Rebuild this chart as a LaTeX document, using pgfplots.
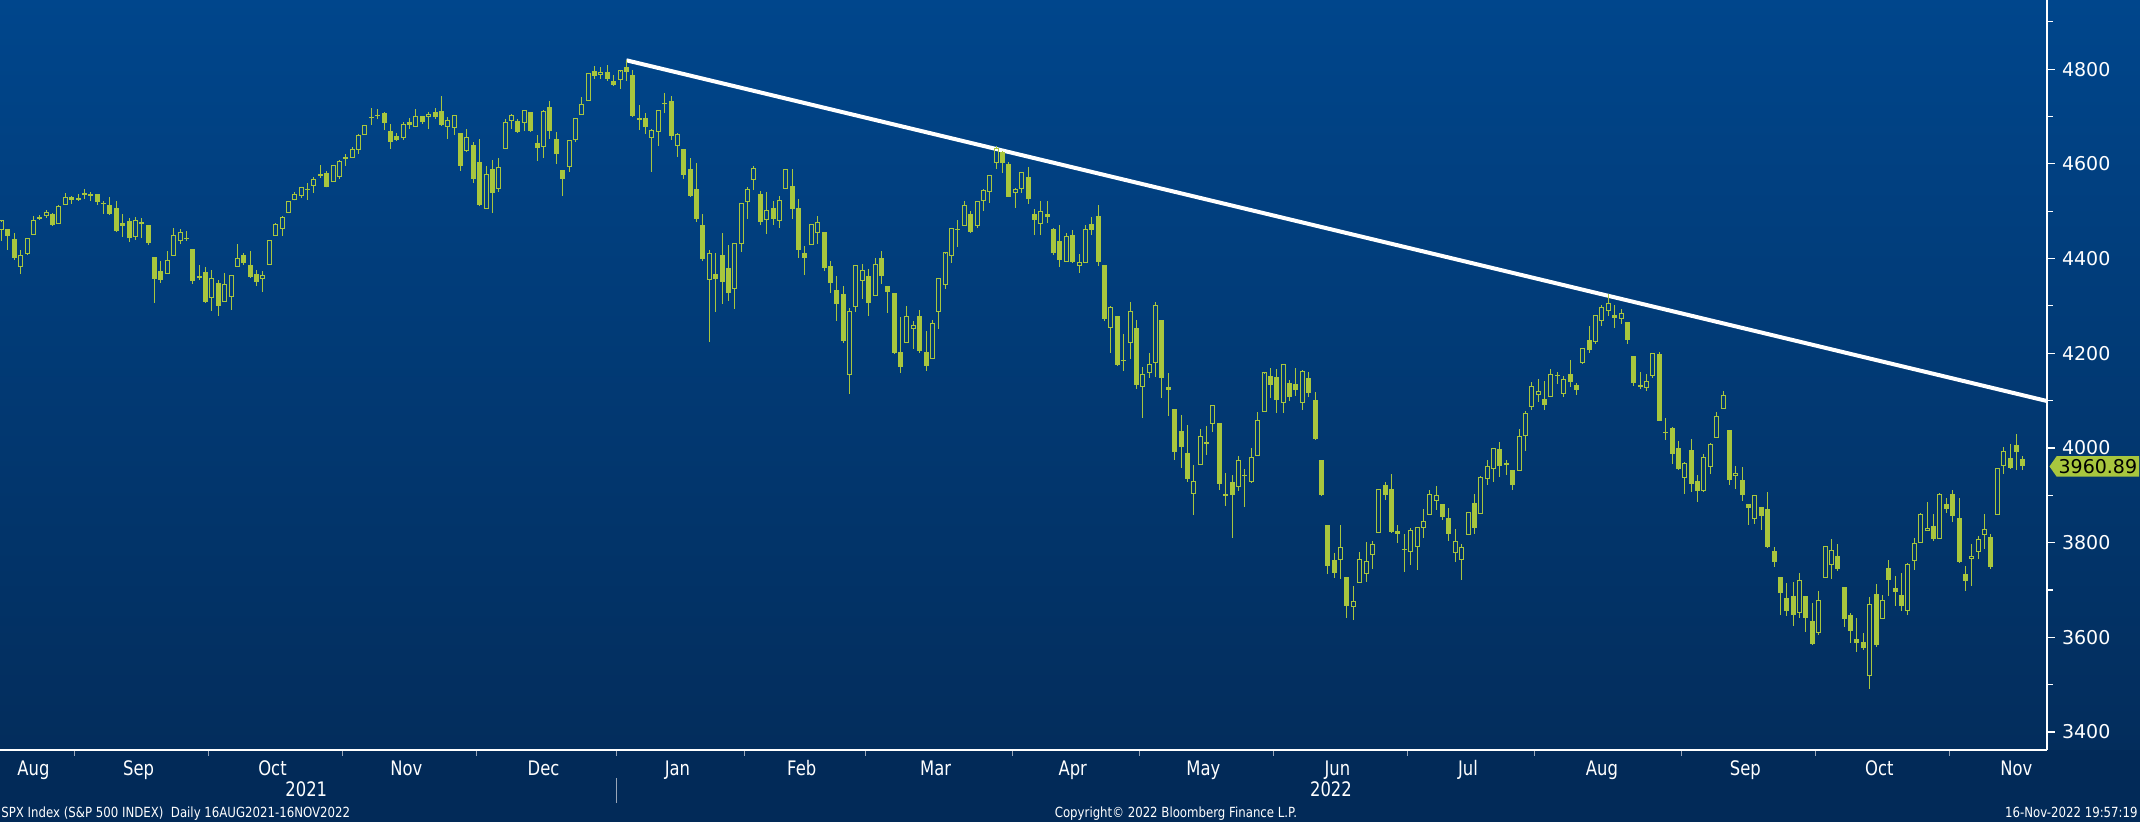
\documentclass[border=0pt]{standalone}
\usepackage{pgfplots}
\pgfplotsset{compat=1.18}
\usepackage{pgfplotstable}
\usepackage{fontspec}
\usetikzlibrary{shapes.symbols}

\newfontfamily\tickfont{DejaVu Sans}
\newfontfamily\narrowfont[FakeStretch=0.82]{DejaVu Sans}
\newfontfamily\footfont[FakeStretch=0.84]{DejaVu Sans}

\definecolor{bgtop}{HTML}{00468C}
\definecolor{bgbot}{HTML}{032D5C}
\definecolor{bgband}{HTML}{022A58}
\definecolor{candle}{HTML}{A8C63E}
\definecolor{tickgray}{HTML}{9AA6B8}

% candle geometry
\newdimen\cyo \newdimen\cyc \newdimen\cyh \newdimen\cyl
\newdimen\bw  \bw=1.25pt
\newdimen\bwi \bwi=1.0pt
\pgfdeclareplotmark{nomark}{}

% marker origin sits at (day, close); open/high/low are taken relative to it
\newcommand\drawcandle{%
  \pgfextracty{\cyc}{\pgfplotspointaxisxy{0}{\vc}}%
  \pgfextracty{\cyo}{\pgfplotspointaxisxy{0}{\vo}}%
  \pgfextracty{\cyh}{\pgfplotspointaxisxy{0}{\vh}}%
  \pgfextracty{\cyl}{\pgfplotspointaxisxy{0}{\vl}}%
  \advance\cyo by -\cyc
  \advance\cyh by -\cyc
  \advance\cyl by -\cyc
  \pgfsetlinewidth{0.5pt}%
  \pgfsetstrokecolor{candle}\pgfsetfillcolor{candle}%
  \ifdim\cyo>0pt
    \pgfpathrectangle{\pgfqpoint{-\bw}{0pt}}{\pgfqpoint{2\bw}{\cyo}}%
    \pgfusepath{fill}%
    \pgfpathmoveto{\pgfqpoint{0pt}{\cyo}}\pgfpathlineto{\pgfqpoint{0pt}{\cyh}}%
    \pgfpathmoveto{\pgfqpoint{0pt}{0pt}}\pgfpathlineto{\pgfqpoint{0pt}{\cyl}}%
    \pgfusepath{stroke}%
  \else
    \pgfpathrectangle{\pgfqpoint{-\bwi}{\cyo}}{\pgfqpoint{2\bwi}{-\cyo}}%
    \pgfpathmoveto{\pgfqpoint{0pt}{0pt}}\pgfpathlineto{\pgfqpoint{0pt}{\cyh}}%
    \pgfpathmoveto{\pgfqpoint{0pt}{\cyo}}\pgfpathlineto{\pgfqpoint{0pt}{\cyl}}%
    \pgfusepath{stroke}%
  \fi
}

% SPX daily, trading day index from 16 Aug 2021
\pgfplotstableread{
d o h l c
0 4461.65 4480.26 4437.66 4479.71
1 4462.12 4462.12 4417.83 4448.08
2 4440.94 4454.32 4397.59 4400.27
3 4382.44 4418.61 4367.73 4405.80
4 4410.56 4444.35 4406.80 4441.67
5 4450.29 4489.88 4450.29 4479.53
6 4484.40 4492.81 4482.28 4486.23
7 4490.45 4501.71 4485.66 4496.19
8 4493.75 4495.90 4468.99 4470.00
9 4474.10 4513.33 4474.10 4509.37
10 4513.76 4537.36 4513.76 4528.79
11 4529.75 4531.39 4515.80 4522.68
12 4528.80 4537.11 4522.02 4524.09
13 4534.48 4545.85 4524.66 4536.95
14 4532.42 4541.45 4521.94 4535.43
15 4535.38 4535.38 4513.00 4520.03
16 4518.09 4521.79 4493.95 4514.07
17 4513.02 4529.90 4492.07 4493.28
18 4506.92 4520.47 4457.66 4458.58
19 4474.81 4492.99 4445.70 4468.73
20 4479.33 4485.68 4435.46 4443.05
21 4447.49 4486.87 4438.37 4480.70
22 4477.09 4485.87 4443.80 4473.75
23 4469.74 4471.41 4427.76 4432.99
24 4402.95 4402.95 4305.91 4357.73
25 4374.45 4394.87 4347.96 4354.19
26 4367.43 4416.75 4367.43 4395.64
27 4406.75 4465.40 4406.75 4448.98
28 4438.04 4463.12 4430.27 4455.48
29 4442.12 4457.30 4436.19 4443.11
30 4419.54 4419.54 4346.33 4352.63
31 4362.41 4385.57 4355.08 4359.46
32 4370.67 4382.55 4306.24 4307.54
33 4317.16 4375.19 4288.52 4357.04
34 4348.84 4355.51 4278.94 4300.46
35 4309.87 4369.23 4309.87 4345.72
36 4319.57 4365.57 4290.49 4363.55
37 4383.73 4429.97 4383.73 4399.76
38 4406.51 4412.02 4386.19 4391.34
39 4385.44 4415.88 4360.59 4361.19
40 4368.31 4374.89 4342.09 4350.65
41 4358.01 4372.87 4329.92 4363.80
42 4386.75 4439.73 4386.75 4438.26
43 4447.69 4475.82 4447.69 4471.37
44 4463.72 4488.75 4447.47 4486.46
45 4497.34 4520.40 4496.41 4519.63
46 4524.42 4540.87 4524.40 4536.19
47 4532.24 4551.44 4526.89 4549.78
48 4546.12 4559.67 4524.00 4544.90
49 4553.69 4572.62 4537.36 4566.48
50 4578.69 4598.53 4569.17 4574.79
51 4580.22 4584.57 4551.66 4551.68
52 4562.84 4597.55 4562.84 4596.42
53 4572.87 4608.08 4567.59 4605.38
54 4610.62 4620.34 4595.06 4613.67
55 4613.34 4635.15 4613.34 4630.65
56 4630.65 4663.46 4621.19 4660.57
57 4662.93 4683.00 4662.59 4680.06
58 4699.26 4718.50 4681.32 4697.53
59 4701.48 4714.92 4694.39 4701.70
60 4707.25 4708.53 4670.87 4685.25
61 4670.26 4684.85 4630.86 4646.71
62 4659.39 4664.55 4648.31 4649.27
63 4655.24 4688.47 4650.77 4682.85
64 4689.30 4697.42 4672.86 4682.80
65 4679.42 4714.95 4679.42 4700.90
66 4701.50 4701.50 4684.41 4688.67
67 4700.72 4708.80 4672.78 4704.54
68 4708.44 4717.75 4694.22 4697.96
69 4712.00 4743.83 4682.17 4682.94
70 4678.48 4699.39 4652.66 4690.70
71 4675.78 4702.87 4659.89 4701.46
72 4664.63 4664.63 4585.43 4594.62
73 4628.75 4672.95 4625.26 4655.27
74 4640.25 4646.02 4560.00 4567.00
75 4602.82 4652.94 4510.27 4513.04
76 4504.73 4595.46 4504.73 4577.10
77 4589.49 4608.03 4495.12 4538.43
78 4548.37 4612.60 4540.51 4591.67
79 4631.97 4694.04 4631.97 4686.75
80 4690.86 4705.06 4674.52 4701.21
81 4691.00 4695.26 4665.98 4667.45
82 4687.64 4713.57 4670.24 4712.02
83 4710.30 4710.30 4667.60 4668.97
84 4642.99 4660.47 4606.52 4634.09
85 4636.46 4712.60 4611.22 4709.85
86 4719.13 4731.99 4651.89 4668.67
87 4652.50 4666.70 4600.22 4620.64
88 4587.90 4587.90 4531.10 4568.02
89 4594.96 4651.14 4583.16 4649.23
90 4650.36 4697.67 4645.53 4696.56
91 4703.96 4740.74 4703.96 4725.79
92 4733.99 4791.49 4733.99 4791.19
93 4795.49 4807.02 4780.04 4786.35
94 4788.64 4804.06 4778.08 4793.06
95 4794.23 4808.93 4775.33 4778.73
96 4775.21 4786.83 4765.75 4766.18
97 4778.14 4796.64 4758.17 4796.56
98 4804.51 4818.62 4774.27 4793.54
99 4787.99 4797.70 4699.44 4700.58
100 4693.39 4725.01 4671.26 4696.05
101 4697.66 4707.95 4662.74 4677.03
102 4655.34 4673.02 4582.24 4670.29
103 4669.14 4714.13 4638.27 4713.07
104 4728.59 4748.83 4706.71 4726.35
105 4733.56 4744.13 4650.29 4659.03
106 4637.99 4665.13 4614.75 4662.85
107 4632.24 4632.24 4568.70 4577.11
108 4588.03 4611.55 4530.20 4532.76
109 4547.35 4602.11 4477.95 4482.73
110 4471.38 4494.52 4395.34 4397.94
111 4356.32 4417.35 4222.62 4410.13
112 4366.64 4411.01 4287.11 4356.45
113 4408.43 4453.23 4304.80 4349.93
114 4380.58 4428.74 4309.50 4326.51
115 4336.19 4432.72 4292.46 4431.85
116 4431.79 4516.89 4414.02 4515.55
117 4519.57 4550.49 4483.53 4546.54
118 4566.39 4595.31 4544.32 4589.38
119 4535.41 4542.88 4470.39 4477.44
120 4482.79 4539.66 4451.50 4500.53
121 4505.75 4521.86 4471.47 4483.87
122 4480.02 4531.32 4465.40 4521.54
123 4547.00 4590.03 4547.00 4587.18
124 4553.24 4588.92 4484.31 4504.08
125 4506.27 4526.33 4401.41 4418.64
126 4412.61 4426.22 4364.84 4401.67
127 4429.28 4472.77 4429.28 4471.07
128 4455.75 4489.55 4429.68 4475.01
129 4456.06 4456.06 4373.81 4380.26
130 4384.57 4394.60 4327.22 4348.87
131 4332.74 4362.12 4267.11 4304.76
132 4324.93 4341.51 4221.51 4225.50
133 4155.77 4294.73 4114.65 4288.70
134 4298.38 4385.34 4286.83 4384.65
135 4354.17 4388.84 4315.12 4373.94
136 4363.14 4378.45 4279.54 4306.26
137 4322.56 4401.48 4322.56 4386.54
138 4401.31 4416.78 4345.56 4363.49
139 4342.12 4342.12 4284.98 4328.87
140 4327.01 4327.01 4199.85 4201.09
141 4202.66 4276.94 4157.87 4170.70
142 4223.10 4299.40 4223.10 4277.88
143 4252.55 4268.28 4209.80 4259.52
144 4279.50 4291.01 4200.49 4204.31
145 4202.75 4247.57 4161.72 4173.11
146 4188.82 4271.05 4187.90 4262.45
147 4288.14 4358.90 4251.99 4357.86
148 4345.11 4412.67 4335.65 4411.67
149 4407.34 4465.40 4390.57 4463.12
150 4462.40 4481.75 4424.30 4461.18
151 4469.10 4522.00 4469.10 4511.61
152 4493.10 4501.07 4455.81 4456.24
153 4469.98 4520.58 4465.17 4520.16
154 4522.91 4546.03 4501.07 4543.06
155 4541.09 4575.65 4517.69 4575.52
156 4602.86 4637.30 4589.66 4631.60
157 4624.20 4627.77 4581.32 4602.45
158 4599.02 4603.07 4530.41 4530.41
159 4540.32 4548.70 4507.57 4545.86
160 4547.97 4583.50 4539.21 4582.64
161 4572.45 4593.45 4514.17 4525.12
162 4494.17 4503.94 4450.04 4481.15
163 4474.65 4521.16 4450.30 4500.21
164 4494.15 4520.41 4474.60 4488.28
165 4462.64 4464.35 4408.38 4412.53
166 4437.59 4471.00 4381.34 4397.45
167 4394.30 4453.92 4392.70 4446.59
168 4449.12 4460.46 4390.77 4392.59
169 4385.63 4410.31 4370.30 4391.69
170 4390.63 4471.03 4390.63 4462.21
171 4472.26 4488.29 4448.76 4459.45
172 4489.17 4512.94 4384.47 4393.66
173 4385.83 4385.83 4267.62 4271.78
174 4255.34 4299.02 4200.82 4296.12
175 4278.14 4278.14 4175.04 4175.20
176 4186.52 4240.71 4162.90 4183.96
177 4222.58 4308.45 4188.63 4287.50
178 4253.75 4269.68 4124.28 4131.93
179 4130.61 4169.81 4062.51 4155.38
180 4159.78 4200.10 4147.08 4175.48
181 4181.18 4307.66 4148.91 4300.17
182 4270.43 4270.43 4106.01 4146.87
183 4128.17 4157.69 4067.91 4123.34
184 4081.27 4081.27 3975.48 3991.24
185 4035.18 4068.82 3958.17 4001.05
186 3990.08 4049.09 3928.82 3935.18
187 3903.95 3964.80 3858.87 3930.08
188 3963.90 4038.88 3963.90 4023.89
189 4013.02 4046.46 3983.99 4008.01
190 4052.00 4090.72 4033.93 4088.85
191 4051.98 4051.98 3911.91 3923.68
192 3899.00 3945.96 3876.58 3900.79
193 3927.76 3943.42 3810.32 3901.36
194 3919.42 3981.88 3909.04 3973.75
195 3942.94 3955.68 3875.13 3941.48
196 3929.59 3999.33 3925.03 3978.73
197 3984.60 4075.14 3984.60 4057.84
198 4077.43 4158.49 4077.43 4158.24
199 4151.09 4168.34 4104.88 4132.15
200 4149.78 4166.54 4073.85 4101.23
201 4095.41 4177.51 4074.37 4176.82
202 4137.57 4142.67 4098.67 4108.54
203 4134.72 4168.78 4109.18 4121.43
204 4096.47 4164.86 4080.19 4160.68
205 4147.12 4160.14 4107.20 4115.77
206 4101.65 4119.10 4017.17 4017.82
207 3974.39 3974.39 3900.16 3900.86
208 3838.15 3838.15 3734.30 3749.63
209 3763.52 3778.18 3724.83 3735.48
210 3764.05 3837.56 3722.30 3789.99
211 3728.18 3728.18 3639.77 3666.77
212 3665.90 3707.71 3636.87 3674.84
213 3715.31 3779.65 3715.31 3764.79
214 3733.89 3801.79 3717.69 3759.89
215 3774.71 3802.58 3743.52 3795.73
216 3821.75 3913.65 3821.75 3911.74
217 3920.76 3927.72 3889.66 3900.11
218 3913.00 3945.86 3820.14 3821.55
219 3825.09 3836.50 3799.02 3818.83
220 3785.99 3818.99 3738.67 3785.38
221 3781.00 3829.82 3752.10 3825.33
222 3792.61 3832.19 3742.06 3831.39
223 3831.98 3870.91 3809.37 3845.08
224 3858.85 3910.63 3858.85 3902.62
225 3888.26 3918.50 3869.34 3899.38
226 3880.94 3880.94 3847.22 3854.43
227 3851.95 3873.41 3802.36 3818.80
228 3779.67 3829.44 3759.07 3801.78
229 3763.99 3796.41 3721.56 3790.38
230 3818.00 3863.62 3817.18 3863.16
231 3883.79 3902.44 3818.63 3830.85
232 3860.73 3939.81 3860.73 3936.69
233 3935.32 3974.13 3922.03 3959.90
234 3955.47 3999.29 3927.64 3998.95
235 3998.43 4012.44 3938.85 3961.63
236 3965.72 3975.30 3943.46 3966.84
237 3953.22 3953.22 3910.74 3921.05
238 3951.43 4039.56 3951.43 4023.61
239 4026.13 4078.95 3992.97 4072.43
240 4087.33 4140.15 4079.22 4130.29
241 4112.38 4144.95 4096.02 4118.63
242 4104.21 4140.47 4079.81 4091.19
243 4107.96 4167.66 4107.96 4155.17
244 4154.85 4161.29 4135.42 4151.94
245 4115.87 4151.58 4107.31 4145.19
246 4155.93 4186.62 4128.97 4140.06
247 4133.11 4137.30 4112.09 4122.47
248 4181.02 4211.03 4177.26 4210.24
249 4227.40 4257.91 4201.41 4207.27
250 4225.02 4280.47 4219.78 4280.15
251 4269.37 4301.79 4256.90 4297.14
252 4290.46 4325.28 4277.77 4305.20
253 4280.40 4302.18 4253.08 4274.04
254 4273.13 4292.53 4261.98 4283.74
255 4266.31 4266.31 4218.70 4228.48
256 4195.08 4195.08 4129.86 4137.99
257 4133.09 4159.77 4124.03 4128.73
258 4126.55 4156.56 4119.97 4140.77
259 4153.26 4200.54 4147.59 4199.12
260 4198.74 4203.04 4057.66 4057.66
261 4034.58 4062.99 4017.42 4030.61
262 4041.25 4044.98 3965.21 3986.16
263 4000.67 4015.37 3954.53 3955.00
264 3936.73 3970.23 3903.65 3966.85
265 3994.66 4018.43 3906.21 3924.26
266 3930.89 3942.55 3886.75 3908.19
267 3909.43 3987.89 3906.03 3979.87
268 3959.94 4010.50 3944.81 4006.18
269 4022.94 4076.81 4022.94 4067.36
270 4083.67 4119.28 4083.67 4110.41
271 4037.12 4037.12 3921.62 3932.69
272 3940.73 3961.94 3912.47 3946.01
273 3932.41 3959.14 3888.28 3901.35
274 3880.95 3880.95 3837.08 3873.33
275 3849.91 3900.45 3838.50 3899.89
276 3875.23 3876.01 3827.54 3855.93
277 3871.40 3907.07 3789.49 3789.93
278 3782.36 3790.68 3749.02 3757.99
279 3727.14 3727.14 3647.47 3693.23
280 3682.72 3715.67 3644.76 3655.04
281 3686.44 3717.53 3623.76 3647.29
282 3651.94 3736.74 3640.61 3719.04
283 3687.01 3687.01 3610.40 3640.47
284 3633.48 3671.44 3584.13 3585.62
285 3609.78 3698.35 3604.93 3678.43
286 3726.46 3791.92 3726.46 3790.93
287 3753.25 3806.91 3722.66 3783.28
288 3771.97 3797.93 3739.22 3744.52
289 3706.74 3706.74 3620.73 3639.66
290 3647.51 3652.17 3588.10 3612.39
291 3595.86 3640.66 3568.45 3588.84
292 3590.83 3608.34 3573.86 3577.03
293 3520.37 3685.41 3491.58 3669.91
294 3690.41 3712.00 3579.68 3583.07
295 3638.65 3689.73 3638.65 3677.95
296 3746.26 3762.79 3686.53 3719.98
297 3703.11 3728.58 3666.51 3695.16
298 3689.05 3736.00 3656.44 3665.78
299 3657.10 3757.89 3647.42 3752.75
300 3762.01 3810.74 3741.65 3797.34
301 3799.44 3862.79 3799.44 3859.11
302 3825.97 3886.15 3824.07 3830.60
303 3834.69 3859.95 3803.79 3807.30
304 3808.26 3905.42 3808.26 3901.06
305 3881.86 3893.73 3863.18 3871.98
306 3901.79 3911.79 3843.80 3856.10
307 3852.90 3894.44 3758.68 3759.69
308 3733.25 3750.59 3698.15 3719.89
309 3766.98 3796.34 3708.84 3770.55
310 3780.71 3813.95 3764.70 3806.80
311 3817.02 3859.40 3786.28 3828.11
312 3810.94 3818.20 3744.22 3748.57
313 3859.89 3958.33 3859.89 3956.37
314 3963.72 4001.48 3944.82 3992.93
315 3977.97 4008.97 3956.40 3957.25
316 4006.41 4028.84 3953.17 3991.73
317 3976.82 3983.09 3954.34 3960.89
}\spx

\begin{document}
\begin{tikzpicture}
\useasboundingbox (0,0) rectangle (1070pt,411pt);
\shade[top color=bgtop, bottom color=bgbot] (0,36pt) rectangle (1070pt,411pt);
\fill[bgband] (0,0) rectangle (1070pt,36pt);

\begin{axis}[
    at={(0pt,36pt)}, anchor=south west,
    scale only axis, width=1023.5pt, height=375pt,
    xmin=-0.24, xmax=320.8, ymin=3362, ymax=4946,
    axis x line*=bottom, axis y line*=right,
    axis line style={white, line width=1pt},
    tick align=outside,
    major tick length=4pt, minor tick length=3pt,
    ytick={3400,3600,3800,4000,4200,4400,4600,4800},
    yticklabels={3400,3600,3800,4000,4200,4400,4600,4800},
    minor ytick={3500,3700,3900,4100,4300,4500,4700,4900},
    y tick style={white, line width=0.6pt},
    yticklabel style={font=\tickfont\fontsize{9.5}{11}\selectfont, text=white},
    xtick={5,21.5,42.5,63.5,85,106,125.5,146.5,168,188.5,209.5,230,251,273.5,294.5,316},
    xticklabels={Aug,Sep,Oct,Nov,Dec,Jan,Feb,Mar,Apr,May,Jun,Jul,Aug,Sep,Oct,Nov},
    major x tick style={draw=none},
    minor xtick={11.5,32.5,53.5,74.5,96.5,116.5,135.5,158.5,178.5,199.5,220.5,240.5,263.5,284.5,305.5},
    minor x tick style={tickgray, line width=0.5pt},
    xticklabel style={font=\narrowfont\fontsize{10}{12}\selectfont, text=white, anchor=base, yshift=-9pt},
]
\addplot[scatter, only marks, mark=nomark,
    visualization depends on={\thisrow{o}\as\vo},
    visualization depends on={\thisrow{h}\as\vh},
    visualization depends on={\thisrow{l}\as\vl},
    visualization depends on={\thisrow{c}\as\vc},
    scatter/@pre marker code/.code={\drawcandle},
    scatter/@post marker code/.code={},
] table[x=d, y=c] {\spx};

% resistance line from the January high
\addplot[white, line width=2pt] coordinates {(98,4818.62) (320.8,4099)};

\coordinate (tag) at (axis cs:320.8,3960.89);
\coordinate (y21) at (axis cs:47.8,3362);
\coordinate (y22) at (axis cs:208.5,3362);
\coordinate (ysep) at (axis cs:96.5,3362);
\end{axis}

\node[signal, signal to=west, signal pointer angle=110, fill=candle, text=black,
      font=\tickfont\fontsize{9.5}{11}\selectfont, inner xsep=1pt, inner ysep=1.5pt,
      anchor=west] at ([xshift=1pt]tag) {3960.89};

\node[anchor=base, text=white, font=\narrowfont\fontsize{10}{12}\selectfont] at ([yshift=-23.5pt]y21) {2021};
\node[anchor=base, text=white, font=\narrowfont\fontsize{10}{12}\selectfont] at ([yshift=-23.5pt]y22) {2022};
\draw[tickgray, line width=0.5pt] ([yshift=-14pt]ysep) -- ([yshift=-26.5pt]ysep);

\begin{scope}[every node/.style={text=white, font=\footfont\fontsize{7}{8}\selectfont, inner sep=0pt}]
\node[anchor=base west] at (0.5pt,2.2pt) {SPX Index (S\&P 500 INDEX)\ \ Daily 16AUG2021-16NOV2022};
\node[anchor=base] at (588pt,2.2pt) {Copyright© 2022 Bloomberg Finance L.P.};
\node[anchor=base east] at (1069pt,2.2pt) {16-Nov-2022 19:57:19};
\end{scope}
\end{tikzpicture}
\end{document}
